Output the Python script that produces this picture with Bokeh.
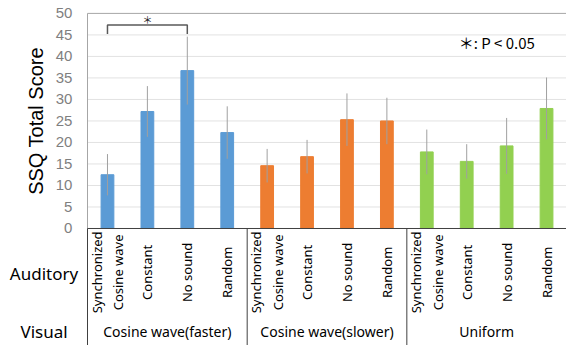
import math
from bokeh.plotting import figure
from bokeh.models import Range1d, ColumnDataSource
from bokeh.core.properties import value
from bokeh.embed import file_html
from bokeh.resources import INLINE

# ---- data ----
auditory = ["Synchronized\nCosine wave", "Constant", "No sound", "Random"]
visual_groups = ["Cosine wave(faster)", "Cosine wave(slower)", "Uniform"]
group_colors = ["#5B9BD5", "#ED7D31", "#92D050"]
ssq_means = [12.5, 27.2, 36.7, 22.3,
             14.6, 16.7, 25.3, 25.0,
             17.8, 15.6, 19.2, 27.9]
ssq_errors = [4.8, 5.9, 7.9, 6.1,
              3.9, 3.9, 6.1, 5.4,
              5.2, 4.0, 6.5, 7.2]
y_ticks = [0, 5, 10, 15, 20, 25, 30, 35, 40, 45, 50]
y_title = "SSQ Total Score"
row_titles = ["Auditory", "Visual"]
sig_pair = (0, 2)          # bar indices compared
sig_level = 47.3
sig_leg = 2.1
sig_mark = "\uff0a"
sig_note = "\uff0a: P < 0.05"

n_aud = len(auditory)
n = len(ssq_means)
y_top = y_ticks[-1]
centers = [i + 0.5 for i in range(n)]
colors = [group_colors[i // n_aud] for i in range(n)]
labels = [auditory[i % n_aud] for i in range(n)]

# frame covers the whole canvas; left strip (x<0) holds the axis texts
X0 = -2.18
Y0, Y1 = -27.2, 53.0
p = figure(width=566, height=345, output_backend="svg", toolbar_location=None,
           x_range=Range1d(X0, n), y_range=Range1d(Y0, Y1),
           x_axis_location=None, y_axis_location=None,
           min_border=0)
p.grid.visible = False
p.outline_line_color = None

# horizontal grid lines and plot border
inner = y_ticks[1:-1]
p.segment(x0=[0] * len(inner), x1=[n] * len(inner), y0=inner, y1=inner,
          line_color="#e2e2e2", line_width=1)
p.segment(x0=[0, 0], x1=[n, 0], y0=[y_top, 0], y1=[y_top, y_top],
          line_color="#a6a6a6", line_width=1)

# y tick labels
p.text(x=[-0.38] * len(y_ticks), y=y_ticks, text=[str(t) for t in y_ticks],
       text_align="right", text_baseline="middle",
       text_font=value("Liberation Sans"), text_font_size="15px", text_color="#7f7f7f")

src = ColumnDataSource(dict(x=centers, top=ssq_means, color=colors,
                            lo=[m - e for m, e in zip(ssq_means, ssq_errors)],
                            hi=[m + e for m, e in zip(ssq_means, ssq_errors)],
                            label=labels))
p.vbar(x="x", top="top", width=0.32, fill_color="color", line_color="color", source=src)
p.segment(x0="x", y0="lo", x1="x", y1="hi", line_color="#a0a0a0", line_width=1, source=src)

# baseline and group separators
p.segment(x0=[0], x1=[n], y0=[0], y1=[0], line_color="#404040", line_width=1)
edges = [g * n_aud for g in range(len(visual_groups) + 1)]
p.segment(x0=edges, y0=[0] * len(edges), x1=edges, y1=[Y0] * len(edges),
          line_color="#404040", line_width=1)

# category labels
p.text(x="x", y=-10.2, text="label", source=src, angle=math.pi / 2,
       text_align="center", text_baseline="middle",
       text_font=value("Noto Sans"), text_font_size="13px", text_color="black",
       text_line_height=1.2)
group_x = [g * n_aud + n_aud / 2 for g in range(len(visual_groups))]
p.text(x=group_x, y=[-23.9] * len(group_x), text=visual_groups,
       text_align="center", text_baseline="middle",
       text_font=value("Noto Sans"), text_font_size="14px", text_color="black")

# row titles
p.text(x=[-1.09, -1.09], y=[-10.5, -24.0], text=row_titles,
       text_align="center", text_baseline="middle",
       text_font=value("Noto Sans"), text_font_size="17px", text_color="black")

# y title
p.text(x=[-1.30], y=[y_top / 2], text=[y_title], angle=math.pi / 2,
       text_align="center", text_baseline="middle",
       text_font=value("Liberation Sans"), text_font_size="20px", text_color="black")

# significance bracket
xa, xb = centers[sig_pair[0]], centers[sig_pair[1]]
p.line(x=[xa, xa, xb, xb], y=[sig_level - sig_leg, sig_level, sig_level, sig_level - sig_leg],
       line_color="#595959", line_width=1.5)
p.text(x=[(xa + xb) / 2], y=[sig_level + 1.3], text=[sig_mark],
       text_align="center", text_baseline="middle",
       text_font=value("Noto Sans CJK JP"), text_font_size="10px", text_color="#222222")
p.text(x=[9.30], y=[43.3], text=[sig_note], text_align="left", text_baseline="middle",
       text_font=value("Noto Sans CJK JP"), text_font_size="15px", text_color="black")

open("out.html", "w").write(file_html(p, INLINE))
